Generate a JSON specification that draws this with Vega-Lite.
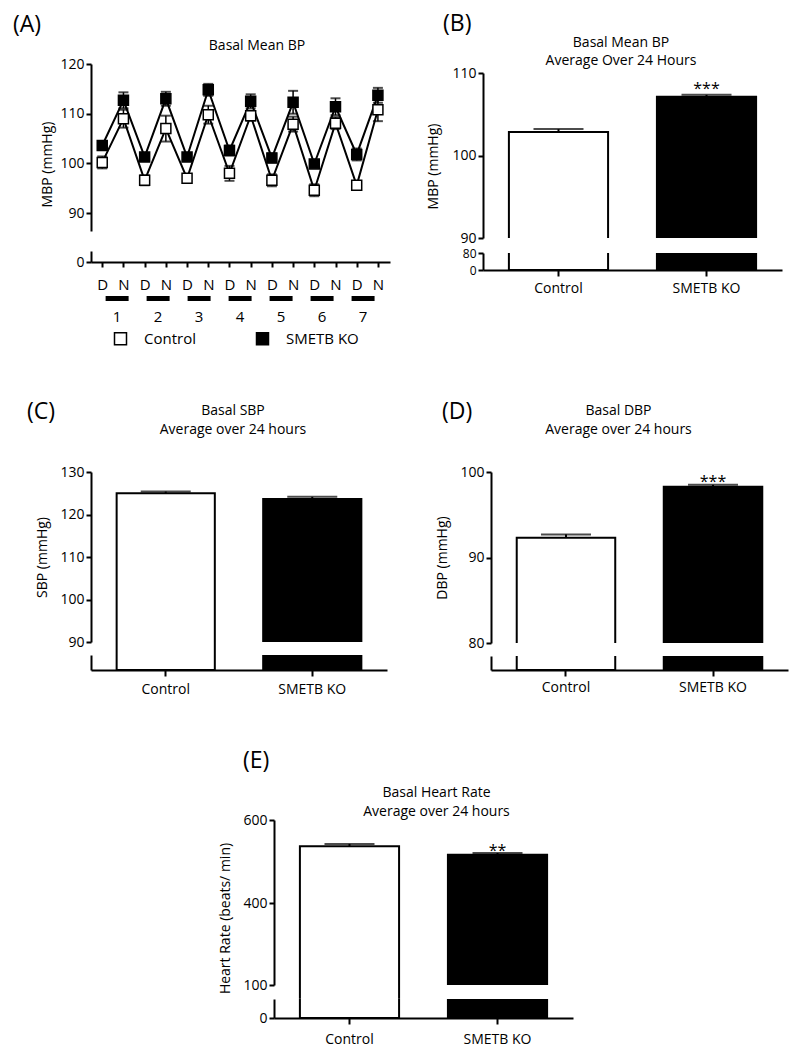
{
  "$schema": "https://vega.github.io/schema/vega-lite/v6.json",
  "background": "white",
  "padding": {"left": 13, "top": 13, "right": 5, "bottom": 5},
  "autosize": {"type": "pad"},
  "spacing": 53,
  "datasets": {
    "mbp": [
      {"idx": 1, "group": "Control", "mean": 100.2, "lo": 99.0, "hi": 101.4},
      {"idx": 2, "group": "Control", "mean": 109.0, "lo": 107.2, "hi": 110.8},
      {"idx": 3, "group": "Control", "mean": 96.6, "lo": 95.6, "hi": 97.6},
      {"idx": 4, "group": "Control", "mean": 107.0, "lo": 104.4, "hi": 109.6},
      {"idx": 5, "group": "Control", "mean": 97.0, "lo": 96.2, "hi": 97.8},
      {"idx": 6, "group": "Control", "mean": 109.8, "lo": 108.0, "hi": 111.6},
      {"idx": 7, "group": "Control", "mean": 98.0, "lo": 96.5, "hi": 99.5},
      {"idx": 8, "group": "Control", "mean": 109.6, "lo": 108.6, "hi": 110.6},
      {"idx": 9, "group": "Control", "mean": 96.6, "lo": 95.4, "hi": 97.8},
      {"idx": 10, "group": "Control", "mean": 107.9, "lo": 106.4, "hi": 109.4},
      {"idx": 11, "group": "Control", "mean": 94.6, "lo": 93.4, "hi": 95.8},
      {"idx": 12, "group": "Control", "mean": 108.1, "lo": 106.9, "hi": 109.3},
      {"idx": 13, "group": "Control", "mean": 95.6, "lo": 94.8, "hi": 96.4},
      {"idx": 14, "group": "Control", "mean": 110.8, "lo": 108.5, "hi": 113.1},
      {"idx": 1, "group": "SMETB KO", "mean": 103.6, "lo": 102.8, "hi": 104.4},
      {"idx": 2, "group": "SMETB KO", "mean": 112.7, "lo": 111.1, "hi": 114.3},
      {"idx": 3, "group": "SMETB KO", "mean": 101.3, "lo": 100.6, "hi": 102.0},
      {"idx": 4, "group": "SMETB KO", "mean": 113.0, "lo": 111.6, "hi": 114.4},
      {"idx": 5, "group": "SMETB KO", "mean": 101.3, "lo": 100.7, "hi": 101.9},
      {"idx": 6, "group": "SMETB KO", "mean": 114.8, "lo": 113.6, "hi": 116.0},
      {"idx": 7, "group": "SMETB KO", "mean": 102.6, "lo": 101.6, "hi": 103.6},
      {"idx": 8, "group": "SMETB KO", "mean": 112.5, "lo": 111.1, "hi": 113.9},
      {"idx": 9, "group": "SMETB KO", "mean": 101.1, "lo": 100.2, "hi": 102.0},
      {"idx": 10, "group": "SMETB KO", "mean": 112.3, "lo": 110.0, "hi": 114.6},
      {"idx": 11, "group": "SMETB KO", "mean": 99.9, "lo": 99.3, "hi": 100.5},
      {"idx": 12, "group": "SMETB KO", "mean": 111.4, "lo": 109.7, "hi": 113.1},
      {"idx": 13, "group": "SMETB KO", "mean": 101.8, "lo": 100.6, "hi": 103.0},
      {"idx": 14, "group": "SMETB KO", "mean": 113.7, "lo": 112.2, "hi": 115.2}
    ],
    "days": [{"day": 1}, {"day": 2}, {"day": 3}, {"day": 4}, {"day": 5}, {"day": 6}, {"day": 7}],
    "B": [
      {"group": "Control", "mean": 102.85, "hi": 103.2, "sig": ""},
      {"group": "SMETB KO", "mean": 107.13, "hi": 107.35, "sig": "***"}
    ],
    "C": [
      {"group": "Control", "mean": 125.0, "hi": 125.4, "sig": ""},
      {"group": "SMETB KO", "mean": 123.65, "hi": 124.15, "sig": ""}
    ],
    "D": [
      {"group": "Control", "mean": 92.3, "hi": 92.7, "sig": ""},
      {"group": "SMETB KO", "mean": 98.28, "hi": 98.5, "sig": "***"}
    ],
    "E": [
      {"group": "Control", "mean": 536.6, "hi": 542.4, "sig": ""},
      {"group": "SMETB KO", "mean": 516.3, "hi": 520.5, "sig": "**"}
    ]
  },
  "vconcat": [
    {
      "spacing": 53,
      "vconcat": [
        {
          "spacing": 36,
          "hconcat": [
            {
              "title": {"text": "(A)", "anchor": "start", "frame": "group", "fontSize": 23, "dx": -78, "offset": 2},
              "bounds": "flush",
              "spacing": 20,
              "resolve": {"scale": {"fill": "independent"}, "legend": {"fill": "independent"}},
              "vconcat": [
                {
                  "width": 299,
                  "height": 167,
                  "title": {"text": "Basal Mean BP", "frame": "group", "dx": 16.5, "offset": 4},
                  "data": {"name": "mbp"},
                  "encoding": {"x": {"field": "idx", "type": "quantitative", "scale": {"domain": [0.47, 14.57], "nice": false, "zero": false}, "axis": null}},
                  "layer": [
                    {
                      "mark": {"type": "rule", "color": "black", "strokeWidth": 1.5},
                      "encoding": {
                        "y": {"field": "lo", "type": "quantitative", "scale": {"domain": [86.4, 120], "nice": false, "zero": false},
                              "axis": {"values": [90, 100, 110, 120], "title": "MBP (mmHg)", "titlePadding": 5, "titleY": 100}},
                        "y2": {"field": "hi"}
                      }
                    },
                    {"mark": {"type": "tick", "orient": "horizontal", "color": "black", "thickness": 2, "size": 10}, "encoding": {"y": {"field": "lo", "type": "quantitative"}}},
                    {"mark": {"type": "tick", "orient": "horizontal", "color": "black", "thickness": 2, "size": 10}, "encoding": {"y": {"field": "hi", "type": "quantitative"}}},
                    {"mark": {"type": "line", "color": "black", "strokeWidth": 2}, "encoding": {"y": {"field": "mean", "type": "quantitative"}, "detail": {"field": "group"}}},
                    {
                      "mark": {"type": "square", "size": 100, "stroke": "black", "strokeWidth": 1.5, "opacity": 1},
                      "encoding": {
                        "y": {"field": "mean", "type": "quantitative"},
                        "fill": {"field": "group", "type": "nominal", "scale": {"domain": ["Control", "SMETB KO"], "range": ["white", "black"]},
                                 "legend": {"orient": "none", "legendX": 22, "legendY": 267, "direction": "horizontal", "title": null, "symbolType": "square", "symbolSize": 144, "symbolStrokeColor": "black", "symbolStrokeWidth": 1.5, "labelFontSize": 15, "labelOffset": 16, "columnPadding": 57, "labelColor": "black"}}
                      }
                    }
                  ]
                },
                {
                  "width": 299,
                  "height": 11,
                  "data": {"values": [{}]},
                  "mark": {"type": "point", "opacity": 0},
                  "encoding": {
                    "x": {"datum": 1, "type": "quantitative", "scale": {"domain": [0.47, 14.57], "nice": false, "zero": false},
                          "axis": {"values": [1, 2, 3, 4, 5, 6, 7, 8, 9, 10, 11, 12, 13, 14], "labelExpr": "datum.value % 2 === 1 ? 'D' : 'N'", "labelFontSize": 15, "labelPadding": 10, "title": null, "tickSize": 5}},
                    "y": {"datum": 0, "type": "quantitative", "scale": {"domain": [0, 2], "nice": false}, "axis": {"values": [0], "title": null}}
                  }
                },
                {
                  "width": 299,
                  "height": 41,
                  "data": {"name": "days"},
                  "encoding": {"x": {"field": "day", "type": "quantitative", "scale": {"domain": [0.485, 7.535], "nice": false, "zero": false}, "axis": null}},
                  "layer": [
                    {"mark": {"type": "bar", "color": "black", "size": 23},
                     "encoding": {"y": {"datum": 27, "type": "quantitative", "scale": {"domain": [0, 41], "nice": false}, "axis": null}, "y2": {"datum": 22}}},
                    {"mark": {"type": "text", "fontSize": 15, "baseline": "middle", "color": "black"},
                     "encoding": {"y": {"datum": 6, "type": "quantitative", "axis": null}, "text": {"field": "day", "type": "ordinal"}}}
                  ]
                }
              ]
            },
            {
              "title": {"text": "(B)", "anchor": "start", "frame": "group", "fontSize": 23, "dx": -40, "offset": 0},
              "bounds": "flush",
              "spacing": 15,
              "vconcat": [
                {
                  "width": 299,
                  "height": 174,
                  "title": {"text": ["Basal Mean BP", "Average Over 24 Hours"], "frame": "group", "dx": -11.5, "offset": -4, "lineHeight": 18},
                  "data": {"name": "B"},
                  "encoding": {"x": {"field": "group", "type": "nominal", "sort": null, "scale": {"paddingInner": 0.33, "paddingOuter": 0.175}, "axis": null}},
                  "layer": [
                    {"mark": {"type": "bar", "clip": true, "stroke": "black", "strokeWidth": 2},
                     "encoding": {
                       "y": {"field": "mean", "type": "quantitative", "scale": {"domain": [90, 110], "range": [174, 9], "nice": false, "zero": false},
                             "axis": {"values": [90, 100, 110], "title": "MBP (mmHg)", "titlePadding": 11, "titleY": 102}},
                       "y2": {"datum": 0},
                       "fill": {"condition": {"test": "datum.group === 'Control'", "value": "white"}, "value": "black"}
                     }},
                    {"mark": {"type": "rule", "color": "black", "strokeWidth": 2}, "encoding": {"y": {"field": "mean", "type": "quantitative"}, "y2": {"field": "hi"}}},
                    {"mark": {"type": "tick", "orient": "horizontal", "color": "black", "thickness": 2, "size": 50}, "encoding": {"y": {"field": "hi", "type": "quantitative"}}},
                    {"mark": {"type": "text", "fontSize": 16, "baseline": "alphabetic", "dy": -1, "color": "black"}, "encoding": {"y": {"field": "hi", "type": "quantitative"}, "text": {"field": "sig"}}}
                  ]
                },
                {
                  "width": 299,
                  "height": 17,
                  "data": {"name": "B"},
                  "mark": {"type": "bar", "clip": true, "stroke": "black", "strokeWidth": 2},
                  "encoding": {
                    "x": {"field": "group", "type": "nominal", "sort": null, "scale": {"paddingInner": 0.33, "paddingOuter": 0.175}, "axis": {"title": null, "labelAngle": 0, "labelPadding": 5, "tickSize": 6}},
                    "y": {"field": "mean", "type": "quantitative", "scale": {"domain": [0, 80], "nice": false}, "axis": {"values": [0, 80], "title": null, "labelFontSize": 12}},
                    "y2": {"datum": 0},
                    "fill": {"condition": {"test": "datum.group === 'Control'", "value": "white"}, "value": "black"}
                  }
                }
              ]
            }
          ]
        },
        {
          "spacing": 48,
          "hconcat": [
            {
              "title": {"text": "(C)", "anchor": "start", "frame": "group", "fontSize": 23, "dx": -64, "offset": -20},
              "bounds": "flush",
              "spacing": 13,
              "vconcat": [
                {
                  "width": 296,
                  "height": 170,
                  "title": {"text": ["Basal SBP", "Average over 24 hours"], "frame": "group", "dx": -6, "offset": 28, "lineHeight": 19},
                  "data": {"name": "C"},
                  "encoding": {"x": {"field": "group", "type": "nominal", "sort": null, "scale": {"paddingInner": 0.33, "paddingOuter": 0.175}, "axis": null}},
                  "layer": [
                    {"mark": {"type": "bar", "clip": true, "stroke": "black", "strokeWidth": 2},
                     "encoding": {
                       "y": {"field": "mean", "type": "quantitative", "scale": {"domain": [90, 130], "nice": false, "zero": false},
                             "axis": {"values": [90, 100, 110, 120, 130], "title": "SBP (mmHg)", "titlePadding": 10}},
                       "y2": {"datum": 0},
                       "fill": {"condition": {"test": "datum.group === 'Control'", "value": "white"}, "value": "black"}
                     }},
                    {"transform": [{"filter": "datum.group === 'Control'"}],
                     "mark": {"type": "rule", "color": "black", "strokeWidth": 2},
                     "encoding": {"x": {"field": "group", "type": "nominal", "sort": null, "bandPosition": 0}, "y": {"datum": 90}, "y2": {"datum": 86.94}}},
                    {"transform": [{"filter": "datum.group === 'Control'"}],
                     "mark": {"type": "rule", "color": "black", "strokeWidth": 2},
                     "encoding": {"x": {"field": "group", "type": "nominal", "sort": null, "bandPosition": 1}, "y": {"datum": 90}, "y2": {"datum": 86.94}}},
                    {"mark": {"type": "rule", "color": "black", "strokeWidth": 2}, "encoding": {"y": {"field": "mean", "type": "quantitative"}, "y2": {"field": "hi"}}},
                    {"mark": {"type": "tick", "orient": "horizontal", "color": "black", "thickness": 2, "size": 50}, "encoding": {"y": {"field": "hi", "type": "quantitative"}}}
                  ]
                },
                {
                  "width": 296,
                  "height": 15,
                  "data": {"name": "C"},
                  "mark": {"type": "bar", "clip": true, "stroke": "black", "strokeWidth": 2},
                  "encoding": {
                    "x": {"field": "group", "type": "nominal", "sort": null, "scale": {"paddingInner": 0.33, "paddingOuter": 0.175}, "axis": {"title": null, "labelAngle": 0, "labelPadding": 6.5, "tickSize": 6}},
                    "y": {"field": "mean", "type": "quantitative", "scale": {"domain": [0, 80], "nice": false}, "axis": {"values": [], "title": null}},
                    "y2": {"datum": 0},
                    "fill": {"condition": {"test": "datum.group === 'Control'", "value": "white"}, "value": "black"}
                  }
                }
              ]
            },
            {
              "title": {"text": "(D)", "anchor": "start", "frame": "group", "fontSize": 23, "dx": -49, "offset": -20},
              "bounds": "flush",
              "spacing": 13,
              "vconcat": [
                {
                  "width": 297,
                  "height": 171,
                  "title": {"text": ["Basal DBP", "Average over 24 hours"], "frame": "group", "dx": -21, "offset": 28, "lineHeight": 19},
                  "data": {"name": "D"},
                  "encoding": {"x": {"field": "group", "type": "nominal", "sort": null, "scale": {"paddingInner": 0.33, "paddingOuter": 0.175}, "axis": null}},
                  "layer": [
                    {"mark": {"type": "bar", "clip": true, "stroke": "black", "strokeWidth": 2},
                     "encoding": {
                       "y": {"field": "mean", "type": "quantitative", "scale": {"domain": [80, 100], "nice": false, "zero": false},
                             "axis": {"values": [80, 90, 100], "title": "DBP (mmHg)", "titlePadding": 10}},
                       "y2": {"datum": 0},
                       "fill": {"condition": {"test": "datum.group === 'Control'", "value": "white"}, "value": "black"}
                     }},
                    {"mark": {"type": "rule", "color": "black", "strokeWidth": 2}, "encoding": {"y": {"field": "mean", "type": "quantitative"}, "y2": {"field": "hi"}}},
                    {"mark": {"type": "tick", "orient": "horizontal", "color": "black", "thickness": 2, "size": 50}, "encoding": {"y": {"field": "hi", "type": "quantitative"}}},
                    {"mark": {"type": "text", "fontSize": 16, "baseline": "alphabetic", "dy": 2, "color": "black"}, "encoding": {"y": {"field": "hi", "type": "quantitative"}, "text": {"field": "sig"}}}
                  ]
                },
                {
                  "width": 297,
                  "height": 14,
                  "data": {"name": "D"},
                  "mark": {"type": "bar", "clip": true, "stroke": "black", "strokeWidth": 2},
                  "encoding": {
                    "x": {"field": "group", "type": "nominal", "sort": null, "scale": {"paddingInner": 0.33, "paddingOuter": 0.175}, "axis": {"title": null, "labelAngle": 0, "labelPadding": 4, "tickSize": 6}},
                    "y": {"field": "mean", "type": "quantitative", "scale": {"domain": [0, 70], "nice": false}, "axis": {"values": [], "title": null}},
                    "y2": {"datum": 0},
                    "fill": {"condition": {"test": "datum.group === 'Control'", "value": "white"}, "value": "black"}
                  }
                }
              ]
            }
          ]
        }
      ]
    },
    {
      "spacing": 0,
      "hconcat": [
        {"width": 127, "height": 1, "data": {"values": [{}]}, "mark": {"type": "point", "opacity": 0}},
        {
          "title": {"text": "(E)", "anchor": "start", "frame": "group", "fontSize": 23, "dx": -31, "offset": 13},
          "bounds": "flush",
          "spacing": 14,
          "vconcat": [
            {
              "width": 299,
              "height": 165,
              "title": {"text": ["Basal Heart Rate", "Average over 24 hours"], "frame": "group", "dx": 13, "offset": -6, "lineHeight": 19},
              "data": {"name": "E"},
              "encoding": {"x": {"field": "group", "type": "nominal", "sort": null, "scale": {"paddingInner": 0.33, "paddingOuter": 0.175}, "axis": null}},
              "layer": [
                {"mark": {"type": "bar", "clip": true, "stroke": "black", "strokeWidth": 2},
                 "encoding": {
                   "y": {"field": "mean", "type": "quantitative", "scale": {"domain": [100, 400, 600], "range": [165, 83, 0], "nice": false, "zero": false},
                         "axis": {"values": [100, 400, 600], "title": "Heart Rate (beats/ min)", "titlePadding": 10, "titleY": 98}},
                   "y2": {"datum": 0},
                   "fill": {"condition": {"test": "datum.group === 'Control'", "value": "white"}, "value": "black"}
                 }},
                {"transform": [{"filter": "datum.group === 'Control'"}],
                 "mark": {"type": "rule", "color": "black", "strokeWidth": 2},
                 "encoding": {"x": {"field": "group", "type": "nominal", "sort": null, "bandPosition": 0}, "y": {"datum": 100}, "y2": {"datum": 49.4}}},
                {"transform": [{"filter": "datum.group === 'Control'"}],
                 "mark": {"type": "rule", "color": "black", "strokeWidth": 2},
                 "encoding": {"x": {"field": "group", "type": "nominal", "sort": null, "bandPosition": 1}, "y": {"datum": 100}, "y2": {"datum": 49.4}}},
                {"mark": {"type": "rule", "color": "black", "strokeWidth": 2}, "encoding": {"y": {"field": "mean", "type": "quantitative"}, "y2": {"field": "hi"}}},
                {"mark": {"type": "tick", "orient": "horizontal", "color": "black", "thickness": 2, "size": 50}, "encoding": {"y": {"field": "hi", "type": "quantitative"}}},
                {"mark": {"type": "text", "fontSize": 16, "baseline": "alphabetic", "dy": 3, "color": "black"}, "encoding": {"y": {"field": "hi", "type": "quantitative"}, "text": {"field": "sig"}}}
              ]
            },
            {
              "width": 299,
              "height": 19,
              "data": {"name": "E"},
              "mark": {"type": "bar", "clip": true, "stroke": "black", "strokeWidth": 2},
              "encoding": {
                "x": {"field": "group", "type": "nominal", "sort": null, "scale": {"paddingInner": 0.33, "paddingOuter": 0.175}, "axis": {"title": null, "labelAngle": 0, "labelPadding": 8.5, "tickSize": 6}},
                "y": {"field": "mean", "type": "quantitative", "scale": {"domain": [0, 50], "nice": false}, "axis": {"values": [0], "title": null}},
                "y2": {"datum": 0},
                "fill": {"condition": {"test": "datum.group === 'Control'", "value": "white"}, "value": "black"}
              }
            }
          ]
        }
      ]
    }
  ],
  "config": {
    "font": "Open Sans",
    "view": {"stroke": null},
    "axis": {"domainColor": "black", "domainWidth": 2, "tickColor": "black", "tickWidth": 2, "tickSize": 5, "labelColor": "black", "labelFontSize": 14, "titleColor": "black", "titleFontSize": 14, "titleFontWeight": "normal", "grid": false, "labelPadding": 2, "labelOverlap": false, "labelFlush": false, "labelBound": false},
    "title": {"fontSize": 14, "fontWeight": "normal", "color": "black", "anchor": "middle"},
    "text": {"font": "Open Sans"}
  }
}
